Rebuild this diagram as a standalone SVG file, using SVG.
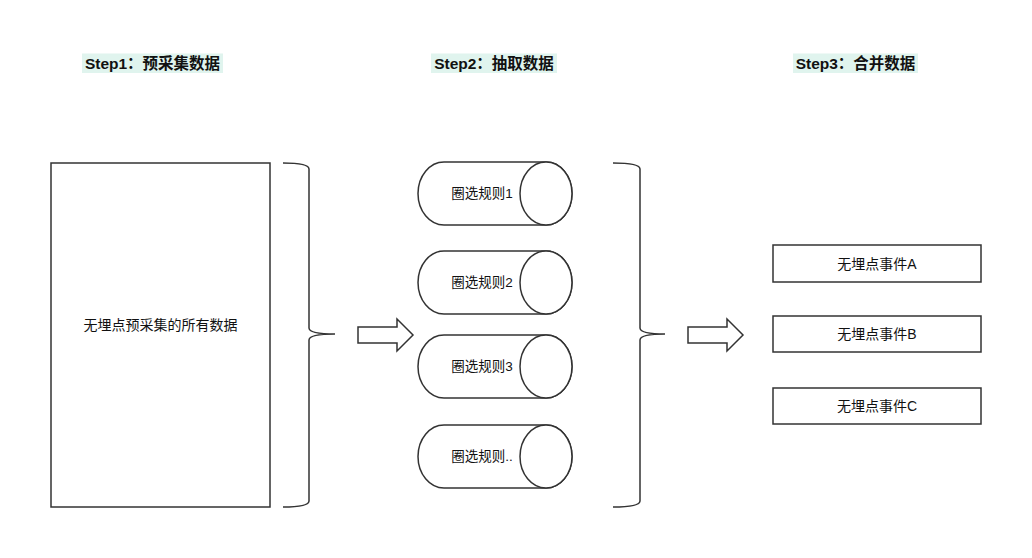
<svg xmlns="http://www.w3.org/2000/svg" width="1032" height="558" viewBox="0 0 1032 558">
<style>
.s{fill:#fff;stroke:#333;stroke-width:1.5}
.l{fill:none;stroke:#333;stroke-width:1.5}
.t{font-family:"Liberation Sans","Noto Sans CJK SC",sans-serif;font-size:14px;fill:#111;text-anchor:middle;dominant-baseline:central}
.c{font-size:13.5px}
.h{font-family:"Liberation Sans","Noto Sans CJK SC",sans-serif;font-size:15.5px;font-weight:bold;fill:#111;text-anchor:middle;dominant-baseline:central}
.hl{fill:#e0f4ee}
</style>
<rect width="1032" height="558" fill="#fff"/>
<g id="title1"><rect class="hl" x="82" y="53.5" width="141" height="19.5"/><text class="h" x="152.5" y="63.5">Step1：预采集数据</text></g>
<g id="title2"><rect class="hl" x="431" y="53.5" width="126" height="19.5"/><text class="h" x="494" y="63.5">Step2：抽取数据</text></g>
<g id="title3"><rect class="hl" x="793" y="53.5" width="125" height="19.5"/><text class="h" x="855.5" y="63.5">Step3：合并数据</text></g>

<g id="all-data"><rect class="s" x="51" y="163" width="219" height="344"/><text class="t" x="160.5" y="325">无埋点预采集的所有数据</text></g>

<g id="rule1"><path class="s" d="M444 162 L546 162 A26 31.5 0 0 1 546 225 L444 225 A26 31.5 0 0 1 444 162 Z"/><ellipse class="s" cx="546" cy="193.5" rx="26" ry="31.5"/><text class="t c" x="482" y="193.5">圈选规则1</text></g>
<g id="rule2"><path class="s" d="M444 251 L546 251 A26 31.5 0 0 1 546 314 L444 314 A26 31.5 0 0 1 444 251 Z"/><ellipse class="s" cx="546" cy="282.5" rx="26" ry="31.5"/><text class="t c" x="482" y="282.5">圈选规则2</text></g>
<g id="rule3"><path class="s" d="M444 335 L546 335 A26 31.5 0 0 1 546 398 L444 398 A26 31.5 0 0 1 444 335 Z"/><ellipse class="s" cx="546" cy="366.5" rx="26" ry="31.5"/><text class="t c" x="482" y="366.5">圈选规则3</text></g>
<g id="rule4"><path class="s" d="M444 425 L546 425 A26 31.5 0 0 1 546 488 L444 488 A26 31.5 0 0 1 444 425 Z"/><ellipse class="s" cx="546" cy="456.5" rx="26" ry="31.5"/><text class="t c" x="482" y="456.5">圈选规则..</text></g>

<g id="eventA"><rect class="s" x="773" y="245" width="208" height="37"/><text class="t" x="877" y="263.5">无埋点事件A</text></g>
<g id="eventB"><rect class="s" x="773" y="316" width="208" height="36"/><text class="t" x="877" y="334">无埋点事件B</text></g>
<g id="eventC"><rect class="s" x="773" y="388" width="208" height="36"/><text class="t" x="877" y="406">无埋点事件C</text></g>

<g id="connectors">
<path class="l" d="M283 163 Q309 163 309 169 L309 328 Q309 334 335 334 Q309 334 309 340 L309 501 Q309 507 283 507"/>
<path class="s" d="M358 327 L397 327 L397 319 L413 335 L397 351 L397 343 L358 343 Z"/>
<path class="l" d="M613 163 Q640 163 640 169 L640 328 Q640 334 665 334 Q640 334 640 340 L640 501 Q640 507 613 507"/>
<path class="s" d="M688 327 L727 327 L727 319 L743 335 L727 351 L727 343 L688 343 Z"/>
</g>
</svg>
